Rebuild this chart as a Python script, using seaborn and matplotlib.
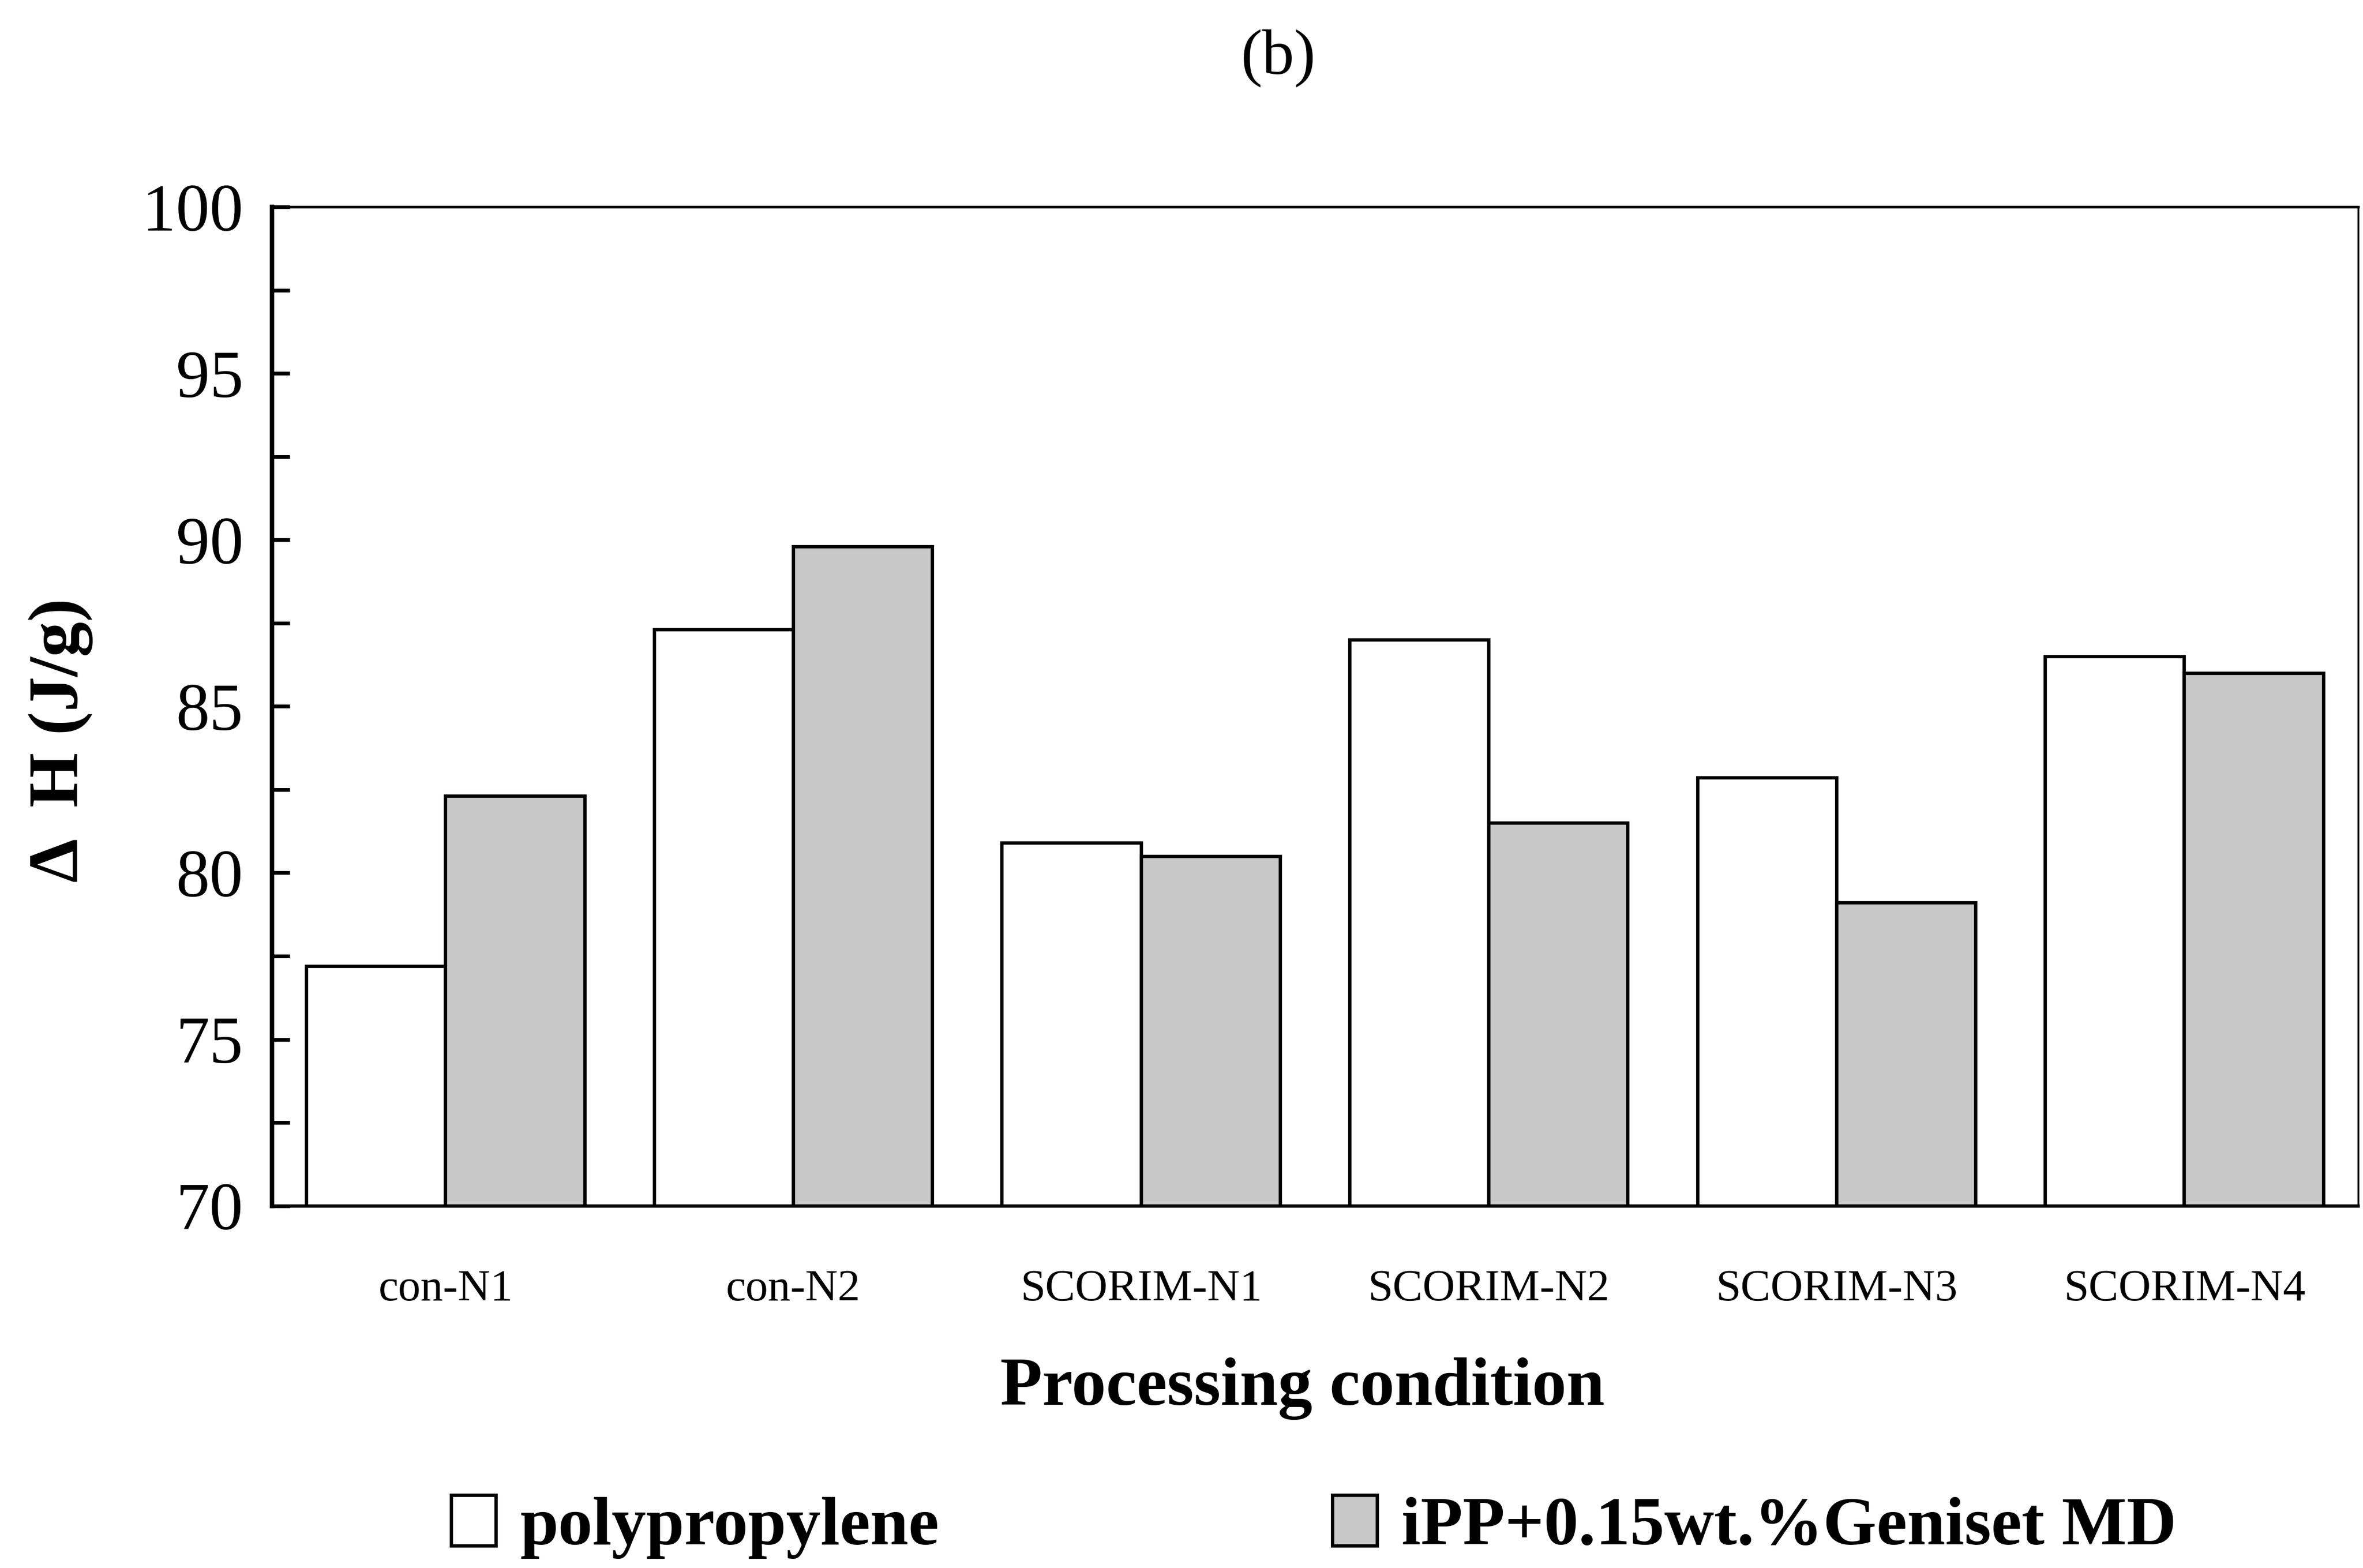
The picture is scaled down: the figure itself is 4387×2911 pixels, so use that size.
import matplotlib
matplotlib.use("Agg")
import matplotlib.pyplot as plt
from matplotlib.ticker import MultipleLocator
import pandas as pd
import seaborn as sns

# Melting enthalpy by processing condition
conditions = ["con-N1", "con-N2", "SCORIM-N1", "SCORIM-N2", "SCORIM-N3", "SCORIM-N4"]
pp_values = [77.2, 87.3, 80.9, 87.0, 82.85, 86.5]
ipp_md_values = [82.3, 89.8, 80.5, 81.5, 79.1, 86.0]
series_names = ["polypropylene", "iPP+0.15wt.%Geniset MD"]
y_ticks = [70, 75, 80, 85, 90, 95, 100]

df = pd.DataFrame({
    "condition": conditions * 2,
    "dH": pp_values + ipp_md_values,
    "material": [series_names[0]] * len(conditions) + [series_names[1]] * len(conditions),
})

sns.set_style("white")
plt.rcParams["font.family"] = ["Liberation Serif", "DejaVu Serif"]
plt.rcParams["text.color"] = "black"
plt.rcParams["axes.labelcolor"] = "black"
plt.rcParams["xtick.color"] = "black"
plt.rcParams["ytick.color"] = "black"

fig = plt.figure(figsize=(43.87, 29.11), dpi=100)
ax = fig.add_axes([0.115, 0.231, 0.883, 0.637])

sns.barplot(data=df, x="condition", y="dH", hue="material",
            palette=["white", "#c8c8c8"], edgecolor="black", linewidth=4.5,
            width=0.8, errorbar=None, ax=ax)

handles, labels = ax.get_legend_handles_labels()
ax.get_legend().remove()

ax.set_ylim(70, 100)
ax.set_xlim(-0.5, 5.5)
ax.set_yticks(y_ticks)
ax.yaxis.set_minor_locator(MultipleLocator(2.5))
ax.tick_params(axis="y", which="both", left=True, right=False, direction="in",
               length=24, width=5, labelsize=90, pad=38, color="black",
               labelcolor="black")
ax.tick_params(axis="x", which="both", bottom=False, length=0, labelsize=60,
               pad=85, labelcolor="black")

for side, lw in {"left": 6, "bottom": 4.5, "top": 3.5, "right": 2.5}.items():
    ax.spines[side].set_visible(True)
    ax.spines[side].set_color("black")
    ax.spines[side].set_linewidth(lw)

ax.set_xlabel("Processing condition", fontsize=92, fontweight="bold", va="top",
              color="black")
ax.xaxis.set_label_coords(0.494, -0.152)
ax.set_ylabel("Δ  H (J/g)", fontsize=94, fontweight="bold", va="center",
              color="black")
ax.yaxis.set_label_coords(-0.101, 0.466)

fig.text(0.541, 0.963, "(b)", fontsize=86, ha="center", va="center", color="black")

for h, lab, x in zip(handles, labels, [0.191, 0.564]):
    fig.legend([h], [lab], loc="center left", bbox_to_anchor=(x, 0.026),
               frameon=False, borderpad=0, borderaxespad=0,
               handlelength=0.65, handleheight=0.75, handletextpad=0.35,
               prop={"size": 92, "weight": "bold"}, labelcolor="black")

fig.savefig("out.png", dpi=100, facecolor="white")
